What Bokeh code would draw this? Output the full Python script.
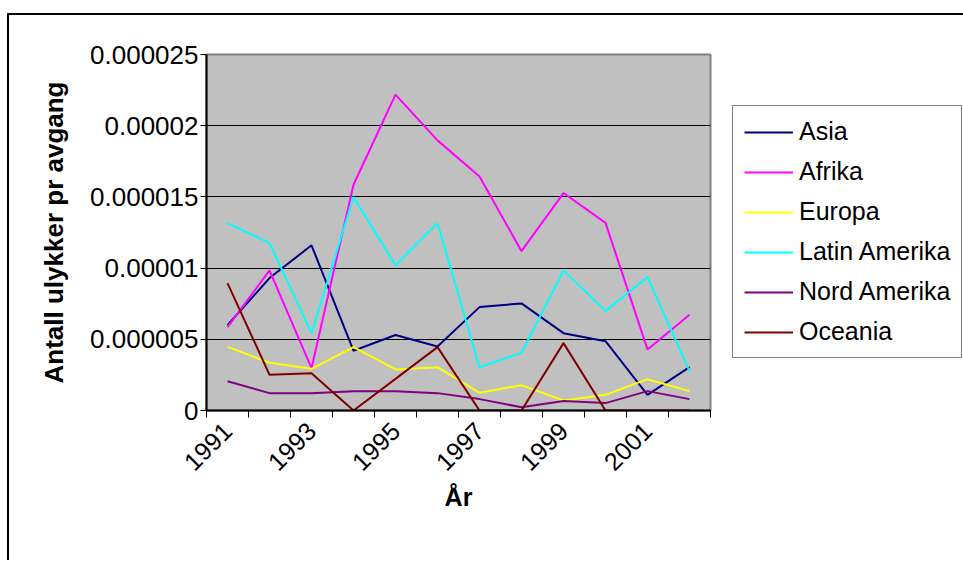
import math
from bokeh.plotting import figure
from bokeh.models import (FixedTicker, NumeralTickFormatter, Legend, LegendItem, Range1d)
from bokeh.embed import file_html
from bokeh.resources import INLINE

years = [1991, 1992, 1993, 1994, 1995, 1996, 1997, 1998, 1999, 2000, 2001, 2002]
label_years = [1991, 1993, 1995, 1997, 1999, 2001]

asia = [6.0e-6, 9.3e-6, 11.6e-6, 4.2e-6, 5.3e-6, 4.5e-6, 7.26e-6, 7.52e-6, 5.43e-6, 4.87e-6, 1.1e-6, 3.04e-6]
afrika = [5.85e-6, 9.84e-6, 2.97e-6, 15.85e-6, 22.18e-6, 18.97e-6, 16.44e-6, 11.19e-6, 15.27e-6, 13.18e-6, 4.29e-6, 6.72e-6]
europa = [4.47e-6, 3.35e-6, 2.93e-6, 4.45e-6, 2.88e-6, 3.04e-6, 1.24e-6, 1.78e-6, 0.70e-6, 1.10e-6, 2.20e-6, 1.36e-6]
latin_amerika = [13.16e-6, 11.76e-6, 5.43e-6, 14.99e-6, 10.19e-6, 13.16e-6, 3.04e-6, 4.05e-6, 9.84e-6, 6.98e-6, 9.37e-6, 2.76e-6]
nord_amerika = [2.06e-6, 1.22e-6, 1.22e-6, 1.36e-6, 1.36e-6, 1.22e-6, 0.80e-6, 0.23e-6, 0.66e-6, 0.52e-6, 1.36e-6, 0.80e-6]
oceania = [8.95e-6, 2.51e-6, 2.62e-6, 0.0, 2.22e-6, 4.45e-6, 0.0, 0.0, 4.73e-6, 0.0, 0.0, 0.0]

series_names = ["Asia", "Afrika", "Europa", "Latin Amerika", "Nord Amerika", "Oceania"]
series_values = [asia, afrika, europa, latin_amerika, nord_amerika, oceania]
series_colors = ["#000080", "#FF00FF", "#FFFF00", "#00FFFF", "#800080", "#800000"]

y_ticks = [0.0, 0.000005, 0.00001, 0.000015, 0.00002, 0.000025]
y_tick_labels = ["0", "0.000005", "0.00001", "0.000015", "0.00002", "0.000025"]

FONT = "Liberation Sans"

p = figure(frame_width=504, frame_height=356, output_backend="svg", toolbar_location=None,
           x_range=Range1d(1990.5, 2002.5), y_range=Range1d(0, 0.000025),
           min_border_left=197, min_border_top=39, min_border_right=250,
           min_border_bottom=150)
p.styles = {"margin-left": "7px", "margin-top": "13px",
            "border-left": "2px solid black", "border-top": "2px solid black"}
p.background_fill_color = "#C0C0C0"
p.border_fill_color = "white"
p.outline_line_color = "#808080"
p.outline_line_width = 2

renderers = []
for name, vals, col in zip(series_names, series_values, series_colors):
    r = p.line(years, vals, line_color=col, line_width=2)
    renderers.append(r)

# x axis
p.xaxis.ticker = FixedTicker(ticks=label_years,
                             minor_ticks=[y - 0.5 for y in years] + [years[-1] + 0.5])
p.xaxis.formatter = NumeralTickFormatter(format="0")
p.xaxis.major_tick_out = 0
p.xaxis.major_tick_in = 0
p.xaxis.minor_tick_out = 7
p.xaxis.minor_tick_in = 0
p.xaxis.minor_tick_line_color = "black"
p.xaxis.axis_line_color = "black"
p.xaxis.axis_line_width = 2
p.xaxis.major_label_orientation = math.pi / 4
p.xaxis.major_label_text_font = FONT
p.xaxis.major_label_text_font_size = "25px"
p.xaxis.major_label_text_color = "black"
p.xaxis.major_label_standoff = 9
p.xaxis.axis_label = "År"
p.xaxis.axis_label_text_font = FONT
p.xaxis.axis_label_text_font_style = "bold"
p.xaxis.axis_label_text_font_size = "25px"
p.xaxis.axis_label_text_color = "black"
p.xaxis.axis_label_standoff = 1

# y axis
p.yaxis.ticker = FixedTicker(ticks=y_ticks, minor_ticks=[])
p.yaxis.major_label_overrides = {t: l for t, l in zip(y_ticks, y_tick_labels)}
p.yaxis.major_tick_out = 6
p.yaxis.major_tick_in = 0
p.yaxis.major_tick_line_color = "black"
p.yaxis.axis_line_color = "black"
p.yaxis.axis_line_width = 2
p.yaxis.major_label_text_font = FONT
p.yaxis.major_label_text_font_size = "26px"
p.yaxis.major_label_text_color = "black"
p.yaxis.major_label_standoff = 2
p.yaxis.axis_label = "Antall ulykker pr avgang"
p.yaxis.axis_label_text_font = FONT
p.yaxis.axis_label_text_font_style = "bold"
p.yaxis.axis_label_text_font_size = "26px"
p.yaxis.axis_label_text_color = "black"
p.yaxis.axis_label_standoff = 18

p.xgrid.grid_line_color = None
p.ygrid.grid_line_color = "black"
p.ygrid.grid_line_width = 1

legend = Legend(items=[LegendItem(label=n, renderers=[r]) for n, r in zip(series_names, renderers)],
                location=(22, 52), orientation="vertical")
legend.label_text_font = FONT
legend.label_text_font_size = "25px"
legend.label_text_color = "black"
legend.glyph_width = 49
legend.glyph_height = 26
legend.label_height = 26
legend.label_standoff = 6
legend.spacing = 11
legend.padding = 11
legend.margin = 0
legend.border_line_color = "black"
legend.border_line_width = 1
legend.background_fill_color = "white"
legend.background_fill_alpha = 1
p.add_layout(legend, "right")

open("out.html", "w").write(file_html(p, INLINE))
